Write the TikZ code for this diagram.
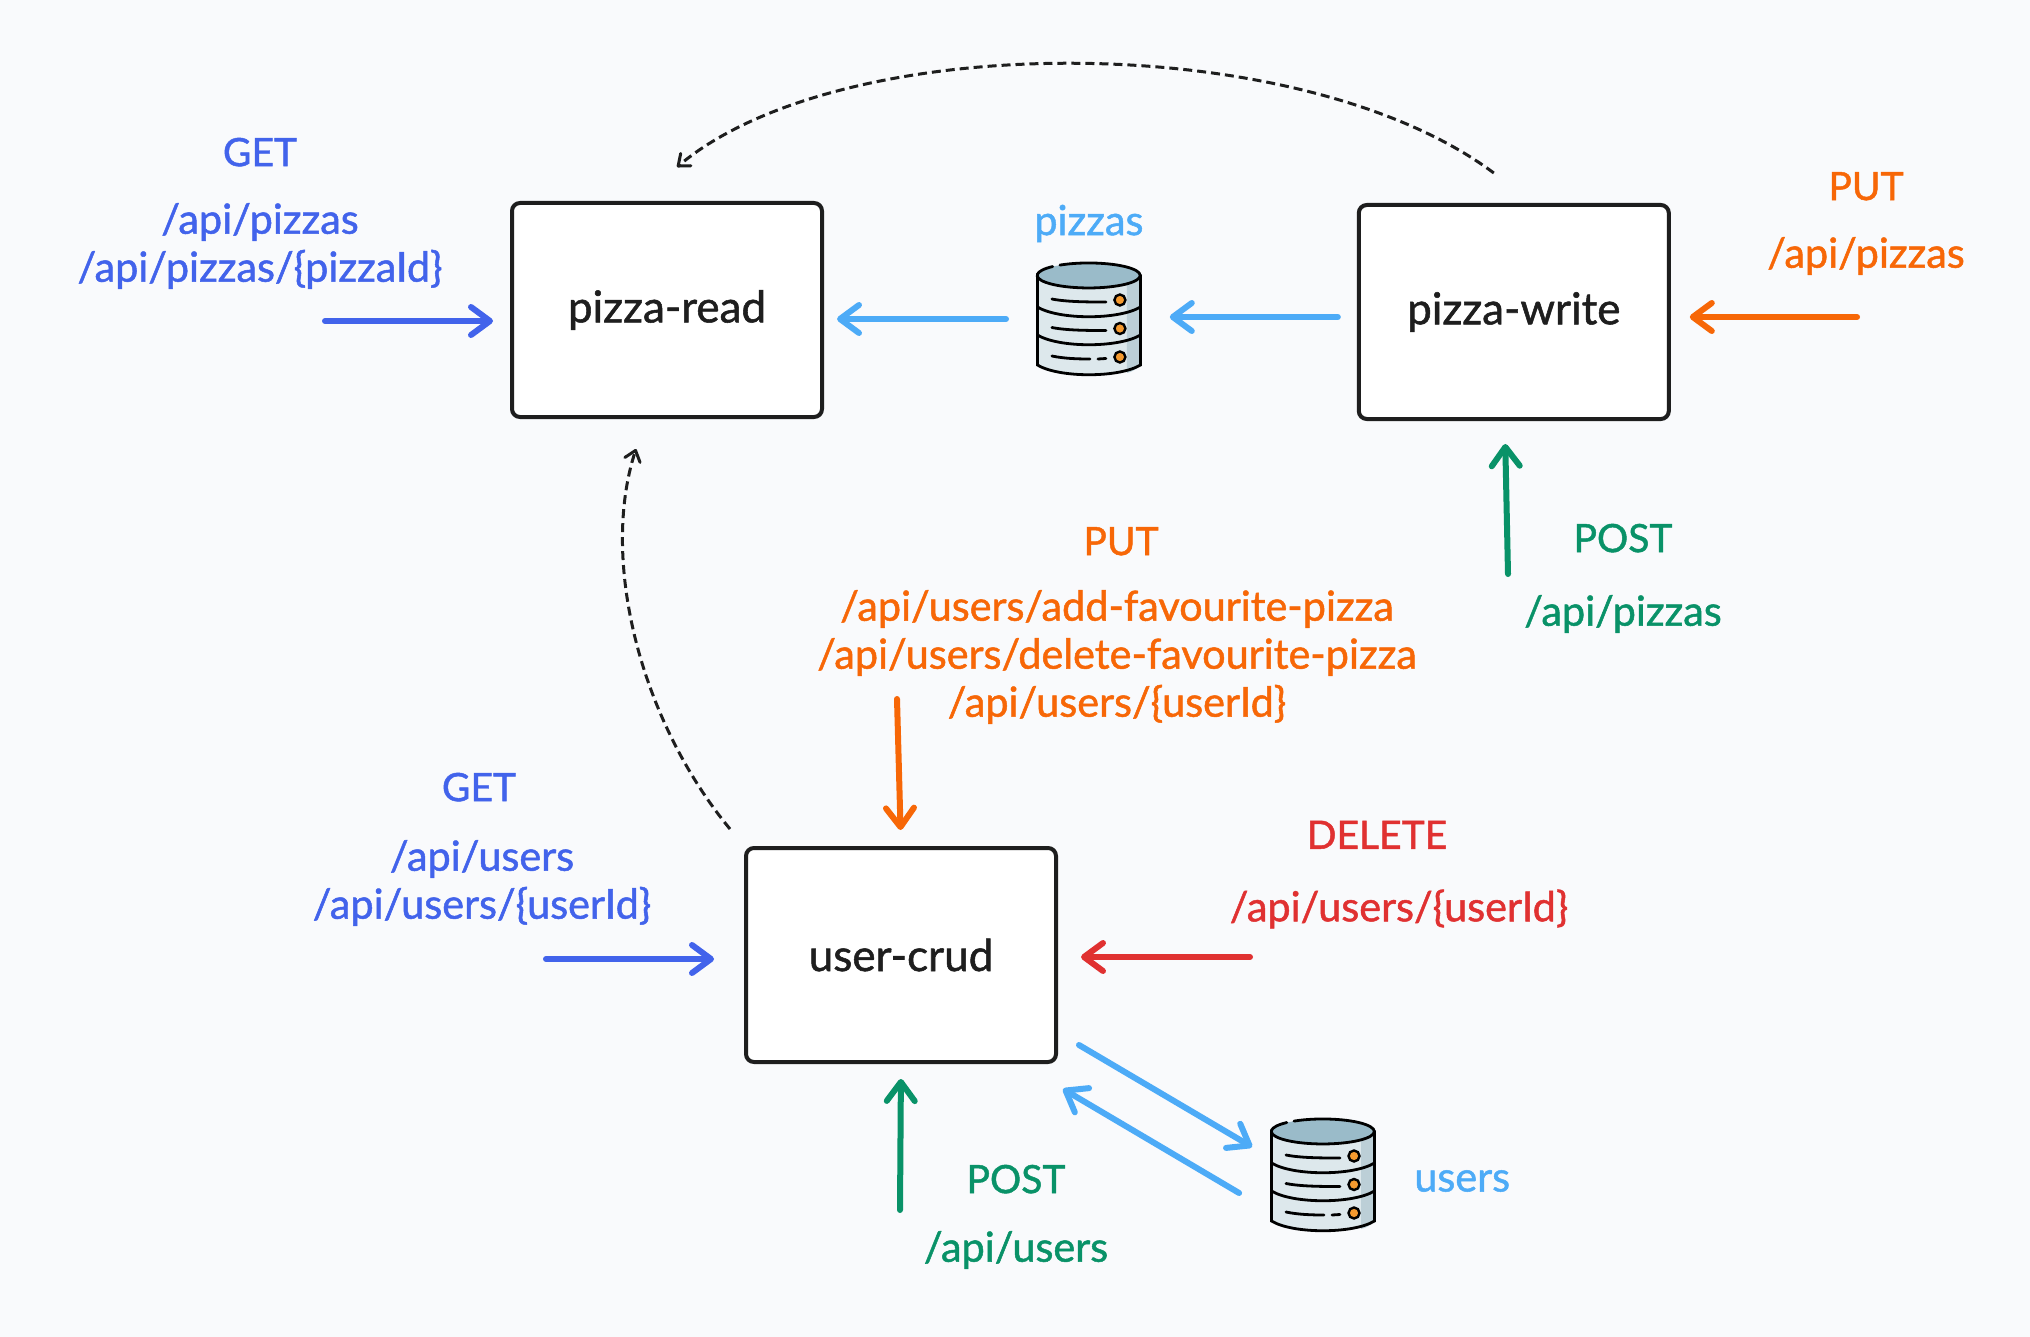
\documentclass[tikz,border=0pt]{standalone}
\usepackage{xcolor}
\usepackage{fontspec}
\setmainfont[FakeBold=1.2]{Lato}
\usetikzlibrary{positioning, arrows.meta}
\definecolor{pagebg}{HTML}{F9FAFC}
\definecolor{inkblack}{HTML}{1E1E1E}
\definecolor{getblue}{HTML}{4263EB}
\definecolor{dbblue}{HTML}{4DABF7}
\definecolor{putorange}{HTML}{F76707}
\definecolor{postgreen}{HTML}{099268}
\definecolor{delred}{HTML}{E03131}
\definecolor{dbbody}{HTML}{DDE8EC}
\definecolor{dbshade}{HTML}{BCCFD7}
\definecolor{dbtop}{HTML}{9ABBC9}
\definecolor{dborange}{HTML}{F59A2F}

\begin{document}
\begin{tikzpicture}[
  x=0.5pt, y=-0.5pt,
  font=\fontsize{20.7}{24}\selectfont,
  service/.style={draw=inkblack, fill=white, rounded corners=4pt, line width=2pt,
    minimum width=155pt, minimum height=107pt, align=center, text=inkblack,
    font=\fontsize{22}{24}\selectfont},
  dbnode/.style={minimum width=51.5pt, minimum height=56pt, inner sep=0pt},
  apilabel/.style={align=center, inner sep=0pt},
  method/.style={inner sep=0pt, above=#1, font=\fontsize{19.5}{24}\selectfont},
  flow/.style={line width=3pt, line cap=round,
    -{Straight Barb[length=9.5pt,width=14pt,round]}},
  sync/.style={draw=inkblack, line width=1.5pt, dash pattern=on 4.5pt off 2.5pt,
    -{Straight Barb[length=5pt,width=8pt,round]}},
  dbline/.style={draw=black, line width=1.4pt, line cap=round},
  dbicon/.pic={
    \fill[fill=dbbody] (-51.5,-44) -- (-51.5,46) .. controls (-30,59) and (30,59) .. (51.5,46) -- (51.5,-44) -- cycle;
    \fill[fill=dbshade] (38,-44) -- (38,54) .. controls (43,53) and (48,50) .. (51.5,46) -- (51.5,-44) -- cycle;
    \fill[fill=dbtop] (0,-43.5) ellipse [x radius=51.5, y radius=12.5];
    \draw[dbline] (-29,-53.9) arc [start angle=236, end angle=585.6, x radius=51.5, y radius=12.5];
    \draw[dbline] (-51.5,-44) -- (-51.5,46) .. controls (-30,59) and (30,59) .. (51.5,46) -- (51.5,-44);
    \draw[dbline] (-51.5,-12) .. controls (-30,1) and (30,1) .. (51.5,-12);
    \draw[dbline] (-51.5,16) .. controls (-30,29) and (30,29) .. (51.5,16);
    \draw[dbline] (-37,-20) .. controls (-22,-17) and (0,-17) .. (17,-17);
    \draw[dbline] (-37,8.5) .. controls (-22,11.5) and (0,11.5) .. (17,11.5);
    \draw[dbline] (-37,37) .. controls (-25,39.5) and (-12,40) .. (1,40);
    \draw[dbline] (9,40) -- (17,39.5);
    \foreach \yy in {-19,9.5,38} {
      \filldraw[draw=black, fill=dborange, line width=1.2pt] (31,\yy) circle [radius=5.5];
    }
  },
]
  \fill[pagebg] (0,0) rectangle (2030,1337);
  \useasboundingbox (0,0) rectangle (2030,1337);

  % services and stores
  \node[service] (read) at (667,310) {pizza-read};
  \node[dbnode, right=106.5pt of read, yshift=-4.5pt] (pizzas) {};
  \node[service, right=108pt of pizzas, yshift=3.5pt] (write) {pizza-write};
  \node[service] (user) at (901,955) {user-crud};
  \node[dbnode] (users) at (1323,1175) {};
  \pic at (pizzas) {dbicon};
  \pic at (users) {dbicon};
  \node[text=dbblue, inner sep=0pt, above=10pt of pizzas] (pizzaslabel) {pizzas};
  \node[text=dbblue, inner sep=0pt, right=19.5pt of users, yshift=-3pt] (userslabel) {users};

  % pizza-read
  \node[apilabel, text=getblue] (readpath) at (260,246) {/api/pizzas\\/api/pizzas/\{pizzaId\}};
  \node[text=getblue, method=18pt of readpath] (readget) {GET};
  % pizza-write
  \node[apilabel, text=putorange] (writeputpath) at (1866,256) {/api/pizzas};
  \node[text=putorange, method=18pt of writeputpath] (writeput) {PUT};
  \node[apilabel, text=postgreen] (writepostpath) at (1623,614) {/api/pizzas};
  \node[text=postgreen, method=21pt of writepostpath] (writepost) {POST};
  % user-crud
  \node[apilabel, text=putorange] (userputpath) at (1117,657) {/api/users/add-favourite-pizza\\/api/users/delete-favourite-pizza\\/api/users/\{userId\}};
  \node[text=putorange, method=17pt of userputpath, xshift=2pt] (userput) {PUT};
  \node[apilabel, text=getblue] (usergetpath) at (482,883) {/api/users\\/api/users/\{userId\}};
  \node[text=getblue, method=19pt of usergetpath, xshift=-1.5pt] (userget) {GET};
  \node[apilabel, text=delred] (userdelpath) at (1399,909) {/api/users/\{userId\}};
  \node[text=delred, method=20pt of userdelpath, xshift=-11pt] (userdel) {DELETE};
  \node[apilabel, text=postgreen] (userpostpath) at (1016,1250) {/api/users};
  \node[text=postgreen, method=18.5pt of userpostpath] (userpost) {POST};

  % free arrow ends
  \coordinate (readin) at (325,321);
  \coordinate (writeputin) at (1857,317);
  \coordinate (writepostin) at (1508,574);
  \coordinate (userputin) at (897,699);
  \coordinate (usergetin) at (546,959);
  \coordinate (userdelin) at (1250,957);
  \coordinate (userpostin) at (900,1210);

  \draw[flow, getblue, shorten >=8.5pt] (readin) -- (readin -| read.west);
  \draw[flow, dbblue, shorten <=15.5pt, shorten >=6.5pt] (pizzas.west) -- (pizzas.west -| read.east);
  \draw[flow, dbblue, shorten <=9.5pt, shorten >=14.5pt] ([yshift=1pt]pizzas.east -| write.west) -- ([yshift=1pt]pizzas.east);
  \draw[flow, putorange, shorten >=9.5pt] (writeputin) -- (writeputin -| write.east);
  \draw[flow, postgreen, shorten >=11.5pt] (writepostin) -- ([xshift=-4.5pt]write.south);
  \draw[flow, putorange, shorten >=8pt] (userputin) -- (user.north);
  \draw[flow, getblue, shorten >=15pt] (usergetin) -- (usergetin -| user.west);
  \draw[flow, delred, shorten >=11.5pt] (userdelin) -- (userdelin -| user.east);
  \draw[flow, postgreen, shorten >=7.5pt] (userpostin) -- (user.south);
  \draw[flow, dbblue] ([xshift=10.5pt,yshift=9.5pt]user.south east) -- ([xshift=-9.5pt,yshift=14pt]users.west);
  \draw[flow, dbblue] ([xshift=-16pt,yshift=-9pt]users.west) -- ([xshift=2.5pt,yshift=-12.5pt]user.south east);

  % dashed links between services
  \draw[sync] ([xshift=-10pt,yshift=15pt]write.north) .. controls (1300,28) and (843,28) .. ([xshift=5pt,yshift=17pt]read.north);
  \draw[sync] ([xshift=-7pt,yshift=8.5pt]user.north west) .. controls (640,720) and (600,560) .. ([xshift=-15.5pt,yshift=-15pt]read.south);
\end{tikzpicture}
\end{document}
